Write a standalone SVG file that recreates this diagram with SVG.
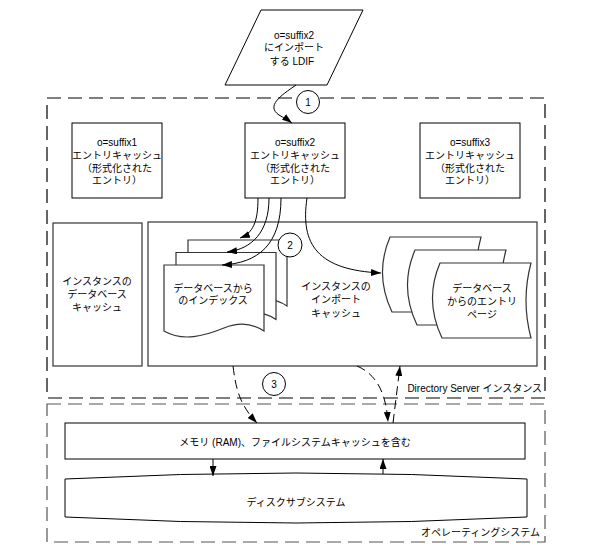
<svg xmlns="http://www.w3.org/2000/svg" width="593" height="553" viewBox="0 0 593 553">
<style>
text{font-family:"Liberation Sans","Noto Sans CJK JP",sans-serif;font-size:10px;fill:#000;text-anchor:middle}
.box{fill:#fff;stroke:#000;stroke-width:1}
.shape{fill:#fff;stroke:#333;stroke-width:1.2}
.frame{fill:none;stroke:#000;stroke-width:1.2;stroke-dasharray:14 7}
.conn{fill:none;stroke:#000;stroke-width:1}
.dash{stroke-dasharray:9 5}
.num{fill:#fff;stroke:#000;stroke-width:1}
.lbl{text-anchor:end}
</style>
<defs>
<marker id="ah" markerWidth="10" markerHeight="7" refX="10" refY="3.5" orient="auto" markerUnits="userSpaceOnUse">
<path d="M0,0 L10,3.5 L0,7 z" fill="#000"/>
</marker>
</defs>
<rect width="593" height="553" fill="#fff"/>

<g id="ds-instance">
<rect class="frame" x="47" y="98" width="498" height="300"/>
<text class="lbl" x="542" y="392">Directory Server インスタンス</text>
</g>
<g id="os">
<rect class="frame" x="47" y="404" width="498" height="138" style="stroke:#555"/>
<text class="lbl" x="540" y="536">オペレーティングシステム</text>
</g>

<g id="ldif">
<path class="box" d="M261,10 H363 L327,85 H225 Z"/>
<text x="294" y="39">o=suffix2</text>
<text x="294" y="51">にインポート</text>
<text x="292" y="65">する LDIF</text>
</g>

<g id="cache1">
<rect class="box" x="72" y="123" width="90" height="75"/>
<text x="117" y="146">o=suffix1</text>
<text x="117" y="159">エントリキャッシュ</text>
<text x="117" y="172">（形式化された</text>
<text x="117" y="184">エントリ）</text>
</g>
<g id="cache2">
<rect class="box" x="245" y="123" width="100" height="75"/>
<text x="295" y="146">o=suffix2</text>
<text x="295" y="159">エントリキャッシュ</text>
<text x="295" y="172">（形式化された</text>
<text x="295" y="184">エントリ）</text>
</g>
<g id="cache3">
<rect class="box" x="420" y="123" width="100" height="75"/>
<text x="470" y="146">o=suffix3</text>
<text x="470" y="159">エントリキャッシュ</text>
<text x="470" y="172">（形式化された</text>
<text x="470" y="184">エントリ）</text>
</g>

<g id="db-cache">
<rect class="shape" x="53" y="223" width="89" height="143"/>
<text x="97" y="285">インスタンスの</text>
<text x="97" y="298">データベース</text>
<text x="97" y="311">キャッシュ</text>
</g>

<g id="import-cache">
<rect class="shape" x="148" y="222" width="389" height="144"/>
<text x="336" y="290">インスタンスの</text>
<text x="336" y="303">インポート</text>
<text x="336" y="317">キャッシュ</text>
</g>

<g id="indexes">
<path class="shape" d="M188,240 h99 v66 c-12,-8 -25,-9 -40,-3 c-20,8 -40,14 -59,3 z"/>
<path class="shape" d="M176,252.5 h100 v67 c-12,-8 -25,-9 -40,-3 c-20,8 -41,14 -60,3 z"/>
<path class="shape" d="M164,265 h100 v66 c-12,-8 -25,-9 -40,-3 c-20,8 -41,14 -60,3 z"/>
<text x="213" y="292">データベースから</text>
<text x="213" y="304">のインデックス</text>
</g>

<g id="entry-pages">
<path class="shape" d="M390,237 H481 Q471,274.5 481,312 H392 Q374,274.5 390,237 Z"/>
<path class="shape" d="M415,250 H506 Q496,287.5 506,325 H417 Q399,287.5 415,250 Z"/>
<path class="shape" d="M440,263 H531 Q521,300.5 531,338 H442 Q424,300.5 440,263 Z"/>
<text x="482" y="292">データベース</text>
<text x="482" y="305">からのエントリ</text>
<text x="482" y="318">ページ</text>
</g>

<g id="memory">
<rect class="box" x="65" y="423" width="460" height="36"/>
<text x="295" y="446">メモリ (RAM)、ファイルシステムキャッシュを含む</text>
</g>

<g id="disk">
<path class="box" d="M65,479 Q296,467 527,479 V517 Q296,529 65,517 Z"/>
<text x="296" y="506">ディスクサブシステム</text>
</g>

<g id="connectors">
<path class="conn" marker-end="url(#ah)" d="M296,85 C280,96 266,106 279,115 C284,118 288,120 292,123"/>
<path class="conn" marker-end="url(#ah)" d="M258,198 C258,222 253,233 240,238"/>
<path class="conn" marker-end="url(#ah)" d="M269,198 C269,232 252,249 227,252"/>
<path class="conn" marker-end="url(#ah)" d="M281,198 C281,245 258,263 222,265"/>
<path class="conn" marker-end="url(#ah)" d="M307,198 C300,245 318,270 381,273"/>
<path class="conn dash" marker-end="url(#ah)" d="M233,366 C236,390 240,405 257,423"/>
<path class="conn dash" marker-end="url(#ah)" d="M357,366 C378,375 386,395 388,422"/>
<path class="conn dash" marker-end="url(#ah)" d="M393,423 L400,366"/>
<path class="conn" marker-end="url(#ah)" d="M213,459 L213,476"/>
<path class="conn" marker-end="url(#ah)" d="M383,474 L383,459"/>
</g>

<g id="step1">
<circle class="num" cx="308" cy="102" r="11.5"/>
<text x="308" y="106">1</text>
</g>
<g id="step2">
<circle class="num" cx="290" cy="245" r="12"/>
<text x="290" y="249">2</text>
</g>
<g id="step3">
<circle class="num" cx="274" cy="384" r="11.5"/>
<text x="274" y="388">3</text>
</g>
</svg>
